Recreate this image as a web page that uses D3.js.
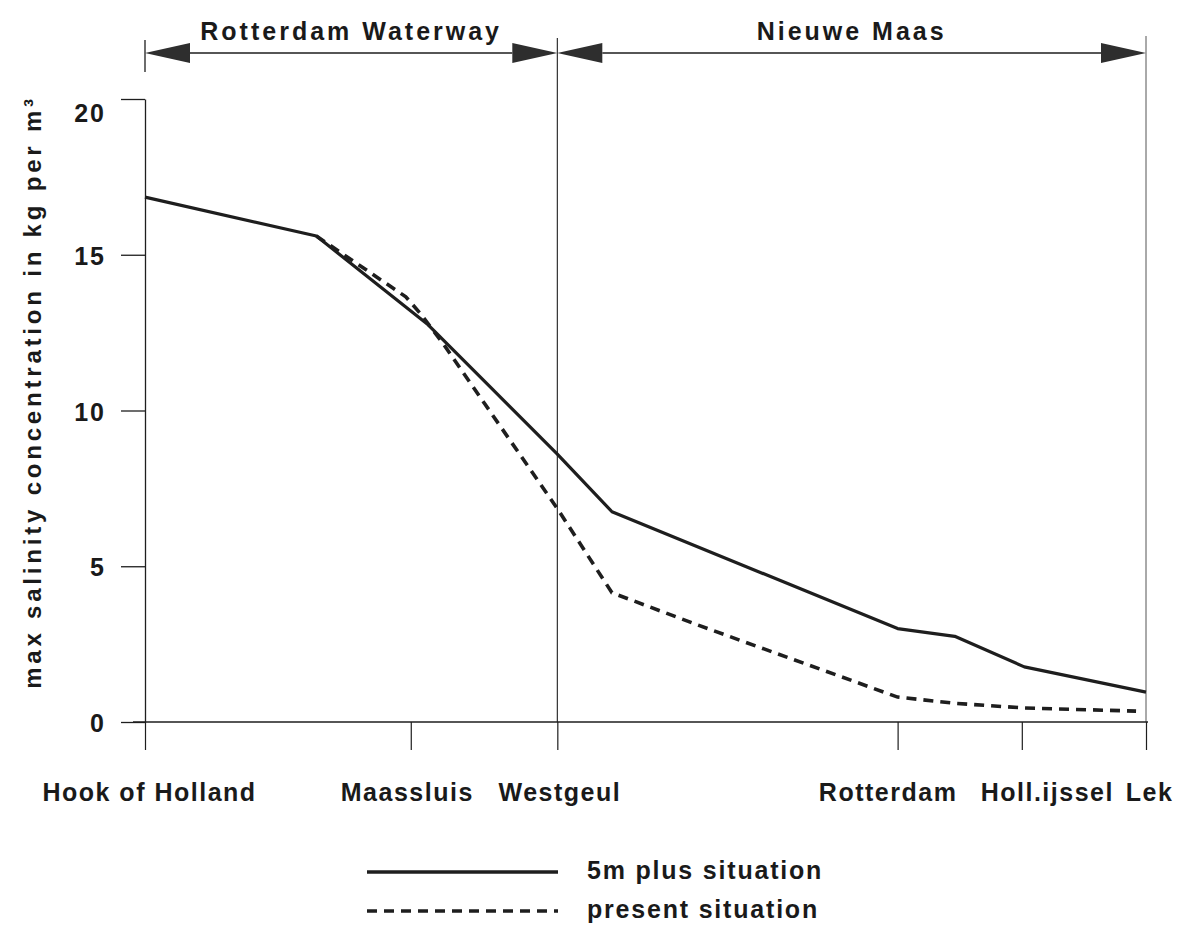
<!DOCTYPE html>
<html>
<head>
<meta charset="utf-8">
<script src="https://cdn.jsdelivr.net/npm/d3@7"></script>
<style>
  html, body { margin: 0; padding: 0; background: #ffffff; }
  svg text {
    font-family: "Liberation Sans", Arial, Helvetica, sans-serif;
    font-weight: bold;
    fill: #1a1a1a;
  }
  .reach-label { font-size: 25px; letter-spacing: 3px; }
  .station-label { font-size: 25px; letter-spacing: 1.5px; }
  .y-tick-label { font-size: 25px; letter-spacing: 2px; }
  .y-title { font-size: 24px; letter-spacing: 3.8px; }
  .legend-label { font-size: 25px; letter-spacing: 1.8px; }
</style>
</head>
<body>
<svg id="chart" width="1192" height="934"></svg>
<script>
// Stations along the waterway, distance in km from Hook of Holland
const stations = ["Hook of Holland", "Maassluis", "Westgeul", "Rotterdam", "Holl.ijssel", "Lek"];
const stationKm = [0, 10.7, 16.6, 30.3, 35.3, 40.3];

// River reaches marked by the arrows along the top
const reaches = ["Rotterdam Waterway", "Nieuwe Maas"];
const reachFromKm = [0, 16.6];
const reachToKm = [16.6, 40.3];

// Maximum salinity (kg per m³) — 5m plus situation
const plusKm = [0, 6.9, 11.4, 16.6, 18.8, 30.3, 32.6, 35.4, 40.3];
const plusSalinity = [16.85, 15.6, 12.75, 8.6, 6.75, 3.0, 2.75, 1.77, 0.96];

// Maximum salinity (kg per m³) — present situation
const presentKm = [6.9, 10.5, 11.1, 12.0, 16.6, 18.8, 22.3, 30.3, 32.6, 35.4, 39.9];
const presentSalinity = [15.6, 13.65, 13.1, 12.15, 6.85, 4.15, 3.1, 0.8, 0.6, 0.45, 0.35];

const yTicks = [0, 5, 10, 15, 20];
const yTitle = "max salinity concentration in kg per m³";
const seriesNames = ["5m plus situation", "present situation"];

// ---- layout ----
const svg = d3.select("#chart");
const ink = "#1e1e1e";
const dashPattern = "10,7";

const x = d3.scaleLinear().domain([0, 40.3]).range([145, 1146]);
const y = d3.scaleLinear().domain([0, 20]).range([722, 99]);

// small horizontal nudges so neighbouring station names don't collide
const stationNudge = [4, -4, 2, -10, 25, 3];

// ---- reach arrows along the top ----
const arrowY = 53, headLen = 45, headHalf = 10;
const reachLayer = svg.append("g");
reaches.forEach((name, i) => {
  const x0 = x(reachFromKm[i]), x1 = x(reachToKm[i]);
  reachLayer.append("line")
    .attr("x1", x0 + headLen).attr("x2", x1 - headLen)
    .attr("y1", arrowY).attr("y2", arrowY)
    .attr("stroke", ink).attr("stroke-width", 1.5);
  reachLayer.append("path")
    .attr("d", `M${x0},${arrowY}L${x0 + headLen},${arrowY - headHalf}L${x0 + headLen},${arrowY + headHalf}Z`)
    .attr("fill", "#2e2e2e");
  reachLayer.append("path")
    .attr("d", `M${x1},${arrowY}L${x1 - headLen},${arrowY - headHalf}L${x1 - headLen},${arrowY + headHalf}Z`)
    .attr("fill", "#2e2e2e");
  reachLayer.append("text")
    .attr("class", "reach-label")
    .attr("x", (x0 + x1) / 2).attr("y", 40)
    .attr("text-anchor", "middle")
    .text(name);
});

// bracket mark above the start of the axis
svg.append("line")
  .attr("x1", x(0)).attr("x2", x(0))
  .attr("y1", 40).attr("y2", 72)
  .attr("stroke", ink).attr("stroke-width", 1.3);

// boundary between the two reaches (Westgeul)
svg.append("line")
  .attr("x1", x(reachToKm[0])).attr("x2", x(reachToKm[0]))
  .attr("y1", 38).attr("y2", y(0))
  .attr("stroke", ink).attr("stroke-width", 1.1);

// end of the Nieuwe Maas reach (Lek)
svg.append("line")
  .attr("x1", x(reachToKm[1])).attr("x2", x(reachToKm[1]))
  .attr("y1", 36).attr("y2", y(0))
  .attr("stroke", "#555").attr("stroke-width", 1);

// ---- y axis ----
const yAxis = svg.append("g")
  .attr("transform", `translate(${x(0)},0)`)
  .call(d3.axisLeft(y).tickValues(yTicks).tickSize(24).tickSizeOuter(0).tickPadding(15));
yAxis.attr("font-family", null).attr("font-size", null);
yAxis.select(".domain").attr("stroke", ink).attr("stroke-width", 1.3);
yAxis.selectAll(".tick line").attr("stroke", ink).attr("stroke-width", 1.3);
yAxis.selectAll(".tick text")
  .attr("class", "y-tick-label")
  .attr("dy", d => d === 20 ? "0.9em" : "0.38em");

// y title
svg.append("text")
  .attr("class", "y-title")
  .attr("transform", `translate(41, 392) rotate(-90)`)
  .attr("text-anchor", "middle")
  .text(yTitle);

// ---- x axis ----
svg.append("line")
  .attr("x1", x(0) - 12).attr("x2", x(40.3) + 2)
  .attr("y1", y(0)).attr("y2", y(0))
  .attr("stroke", ink).attr("stroke-width", 1.4);

const xAxis = svg.append("g")
  .attr("transform", `translate(0,${y(0)})`)
  .call(d3.axisBottom(x)
    .tickValues(stationKm)
    .tickSize(28).tickSizeOuter(0).tickPadding(33)
    .tickFormat((d, i) => stations[i]));
xAxis.attr("font-family", null).attr("font-size", null);
xAxis.select(".domain").remove();
xAxis.selectAll(".tick line").attr("stroke", ink).attr("stroke-width", 1.2);
xAxis.selectAll(".tick text")
  .attr("class", "station-label")
  .attr("dx", (d, i) => stationNudge[i]);

// ---- salinity lines ----
const line = d3.line().x(d => x(d[0])).y(d => y(d[1]));

svg.append("path")
  .datum(presentKm.map((k, i) => [k, presentSalinity[i]]))
  .attr("d", line)
  .attr("fill", "none")
  .attr("stroke", ink)
  .attr("stroke-width", 3.6)
  .attr("stroke-dasharray", dashPattern);

svg.append("path")
  .datum(plusKm.map((k, i) => [k, plusSalinity[i]]))
  .attr("d", line)
  .attr("fill", "none")
  .attr("stroke", ink)
  .attr("stroke-width", 3.2)
  .attr("stroke-linejoin", "round");

// ---- legend ----
const legend = svg.append("g");
const legendRows = [872, 911];
seriesNames.forEach((name, i) => {
  legend.append("line")
    .attr("x1", 367).attr("x2", 558)
    .attr("y1", legendRows[i]).attr("y2", legendRows[i])
    .attr("stroke", ink)
    .attr("stroke-width", 3.6)
    .attr("stroke-dasharray", i === 0 ? null : dashPattern);
  legend.append("text")
    .attr("class", "legend-label")
    .attr("x", 587).attr("y", legendRows[i] + 7)
    .text(name);
});
</script>
</body>
</html>
